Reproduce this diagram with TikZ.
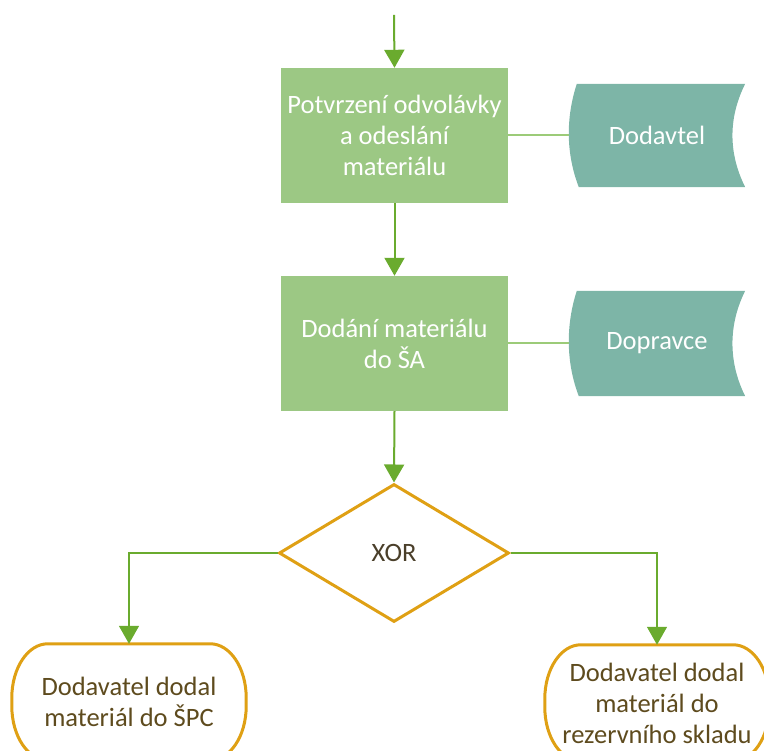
\documentclass[tikz,border=0pt]{standalone}
\usepackage{fontspec}
\setmainfont{Carlito}
\usetikzlibrary{arrows.meta,shapes.geometric,backgrounds}
\definecolor{boxgreen}{HTML}{9CC884}
\definecolor{roleteal}{HTML}{7DB5A7}
\definecolor{flowgreen}{HTML}{6AAB2E}
\definecolor{linkgreen}{HTML}{9CCB78}
\definecolor{gateorange}{HTML}{DFA014}
\definecolor{endtext}{HTML}{5E4B1E}
\definecolor{gatetext}{HTML}{4A3F2A}

\begin{document}
\begin{tikzpicture}[x=1pt,y=1pt,
  every node/.style={font=\fontsize{26.5}{31}\selectfont, align=center},
  stepbox/.style={fill=boxgreen, minimum width=227pt, minimum height=135pt, inner sep=0pt, text=white},
  role/.style={minimum width=176pt, minimum height=103pt, inner sep=0pt, text=white},
  gate/.style={diamond, draw=gateorange, line width=3pt, minimum width=230pt, minimum height=138pt, inner sep=0pt, text=gatetext},
  term/.style={minimum width=234pt, minimum height=116pt, inner sep=0pt, text=endtext},
  flow/.style={draw=flowgreen, line width=2pt, -{Triangle[width=20pt,length=18pt]}},
  branch/.style={draw=flowgreen, line width=1.5pt, -{Triangle[width=20pt,length=18pt]}},
  link/.style={draw=linkgreen, line width=2pt},
  termline/.style={draw=gateorange, line width=3pt, fill=white}]

\useasboundingbox (0,0) rectangle (764,751);

% process steps, roles, gateway and end states
\coordinate (start) at (394,736);
\node[stepbox] (s1) at (394.5,615.5) {Potvrzení odvolávky\\a odeslání\\materiálu};
\node[role] (r1) at (657,615.5) {Dodavtel};
\node[stepbox] (s2) at (394.5,407.5) {Dodání materiálu\\do ŠA};
\node[role, minimum height=105pt] (r2) at (657,407.5) {Dopravce};
\node[gate] (g) at (394,198) {XOR};
\node[term] (t1) at (129,49) {Dodavatel dodal\\materiál do ŠPC};
\node[term, minimum width=224pt] (t2) at (657,48) {Dodavatel dodal\\materiál do\\rezervního skladu};

\begin{scope}[on background layer]
  % role shapes: convex left side, concave right side
  \foreach \r in {r1,r2} {
    \fill[roleteal] ([xshift=8pt]\r.north west) -- (\r.north east)
      .. controls ([xshift=-17pt,yshift=-34pt]\r.north east) and ([xshift=-17pt,yshift=34pt]\r.south east) .. (\r.south east)
      -- ([xshift=10pt]\r.south west)
      .. controls ([xshift=-3pt,yshift=34pt]\r.south west) and ([xshift=-3pt,yshift=-34pt]\r.north west) .. ([xshift=8pt]\r.north west) -- cycle;
  }
  % end states with elliptical corners
  \foreach \t in {t1,t2} {
    \path[termline] ([xshift=36pt]\t.north west) -- ([xshift=-36pt]\t.north east)
      arc[start angle=90,end angle=0,x radius=36pt,y radius=54pt]
      -- ([yshift=54pt]\t.south east)
      arc[start angle=0,end angle=-90,x radius=36pt,y radius=54pt]
      -- ([xshift=36pt]\t.south west)
      arc[start angle=270,end angle=180,x radius=36pt,y radius=54pt]
      -- ([yshift=-54pt]\t.north west)
      arc[start angle=180,end angle=90,x radius=36pt,y radius=54pt] -- cycle;
  }
\end{scope}

% connectors
\draw[flow] (start) -- (s1.north);
\draw[flow] (s1.south) -- (s2.north);
\draw[flow] (s2.south) -- (g.north);
\draw[link] (s1.east) -- (r1.west);
\draw[link] (s2.east) -- (r2.west);
\draw[branch] (g.west) -| (t1.north);
\draw[branch] (g.east) -| (t2.north);
\end{tikzpicture}
\end{document}
